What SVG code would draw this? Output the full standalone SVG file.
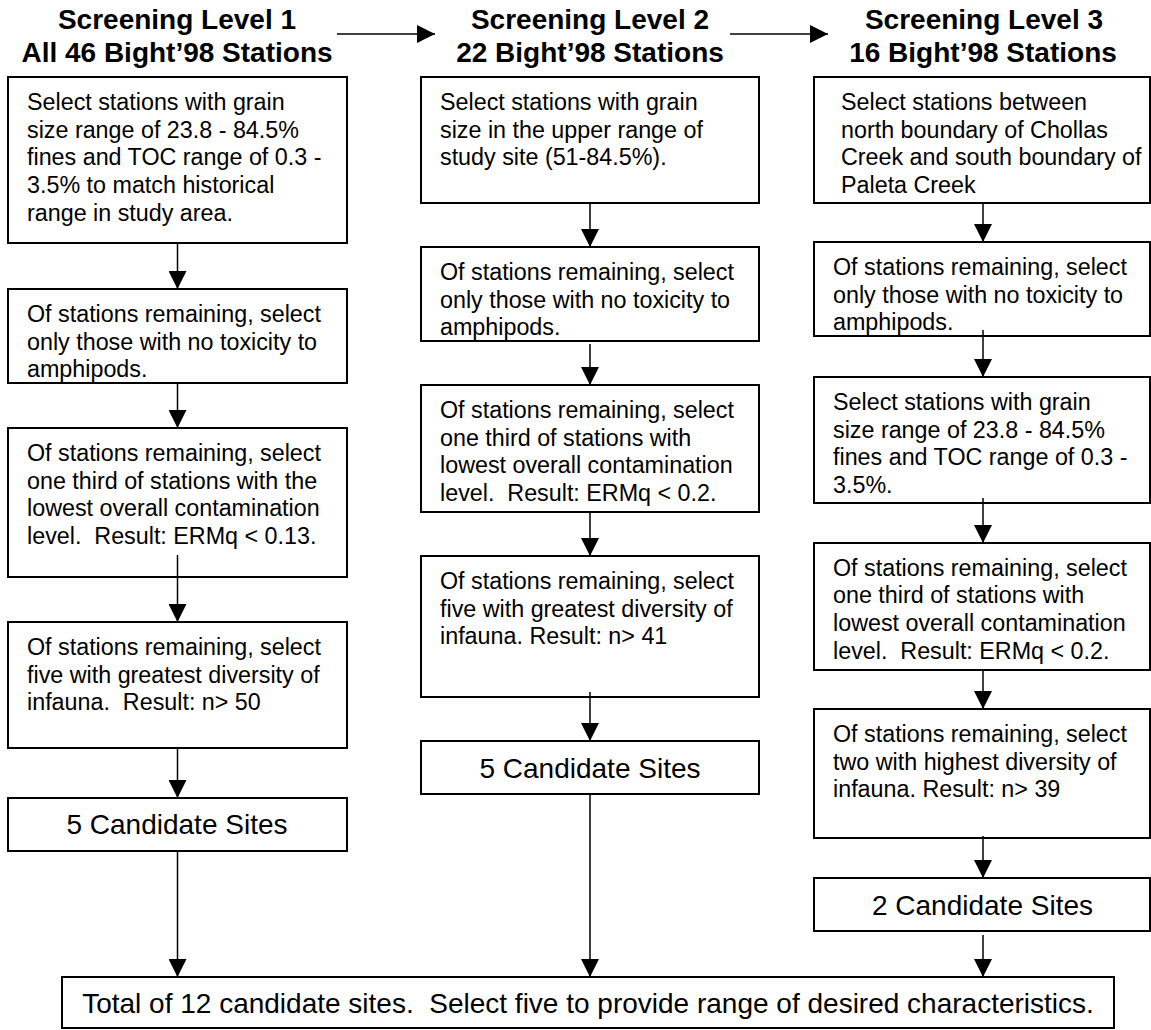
<svg xmlns="http://www.w3.org/2000/svg" width="1151" height="1030" viewBox="0 0 1151 1030">
<style>
  .box { fill: #fff; stroke: #000; stroke-width: 2; }
  .t { font-family: "Liberation Sans", Arial, sans-serif; font-size: 23.3px; fill: #000; white-space: pre; }
  .big { font-family: "Liberation Sans", Arial, sans-serif; font-size: 28px; fill: #000; white-space: pre; text-anchor: middle; }
  .hd { font-family: "Liberation Sans", Arial, sans-serif; font-size: 28px; font-weight: bold; fill: #000; text-anchor: middle; }
  .c { stroke: #000; stroke-width: 1.5; fill: none; marker-end: url(#ah); }
</style>
<defs>
  <marker id="ah" markerUnits="userSpaceOnUse" markerWidth="18" markerHeight="18" refX="18" refY="9" orient="auto">
    <path d="M0,0 L18,9 L0,18 Z" fill="#000"/>
  </marker>
</defs>
<rect width="1151" height="1030" fill="#fff"/>

<g id="headers">
  <text class="hd" x="177" y="29">Screening Level 1</text>
  <text class="hd" x="177" y="62">All 46 Bight’98 Stations</text>
  <text class="hd" x="590" y="29">Screening Level 2</text>
  <text class="hd" x="590" y="62">22 Bight’98 Stations</text>
  <text class="hd" x="984" y="29">Screening Level 3</text>
  <text class="hd" x="983" y="62">16 Bight’98 Stations</text>
</g>

<!-- Column 1 -->
<g id="c1a">
  <rect class="box" x="8" y="77" width="339" height="166"/>
  <text class="t"><tspan x="27" y="110">Select stations with grain</tspan><tspan x="27" y="137.7">size range of 23.8 - 84.5%</tspan><tspan x="27" y="165.4">fines and TOC range of 0.3 -</tspan><tspan x="27" y="193.1">3.5% to match historical</tspan><tspan x="27" y="220.8">range in study area.</tspan></text>
</g>
<g id="c1b">
  <rect class="box" x="8" y="289" width="339" height="94"/>
  <text class="t"><tspan x="27" y="322">Of stations remaining, select</tspan><tspan x="27" y="349.7">only those with no toxicity to</tspan><tspan x="27" y="377.4">amphipods.</tspan></text>
</g>
<g id="c1c">
  <rect class="box" x="8" y="428" width="339" height="149"/>
  <text class="t"><tspan x="27" y="461">Of stations remaining, select</tspan><tspan x="27" y="488.7">one third of stations with the</tspan><tspan x="27" y="516.4">lowest overall contamination</tspan><tspan x="27" y="544.1">level.  Result: ERMq &lt; 0.13.</tspan></text>
</g>
<g id="c1d">
  <rect class="box" x="8" y="622" width="339" height="126"/>
  <text class="t"><tspan x="27" y="655">Of stations remaining, select</tspan><tspan x="27" y="682.7">five with greatest diversity of</tspan><tspan x="27" y="710.4">infauna.  Result: n&gt; 50</tspan></text>
</g>
<g id="c1e">
  <rect class="box" x="8" y="798" width="339" height="53"/>
  <text class="big" x="177" y="834">5 Candidate Sites</text>
</g>

<!-- Column 2 -->
<g id="c2a">
  <rect class="box" x="421" y="77" width="338" height="126"/>
  <text class="t"><tspan x="440" y="110">Select stations with grain</tspan><tspan x="440" y="137.7">size in the upper range of</tspan><tspan x="440" y="165.4">study site (51-84.5%).</tspan></text>
</g>
<g id="c2b">
  <rect class="box" x="421" y="247" width="338" height="94"/>
  <text class="t"><tspan x="440" y="280">Of stations remaining, select</tspan><tspan x="440" y="307.7">only those with no toxicity to</tspan><tspan x="440" y="335.4">amphipods.</tspan></text>
</g>
<g id="c2c">
  <rect class="box" x="421" y="385" width="338" height="127"/>
  <text class="t"><tspan x="440" y="418">Of stations remaining, select</tspan><tspan x="440" y="445.7">one third of stations with</tspan><tspan x="440" y="473.4">lowest overall contamination</tspan><tspan x="440" y="501.1">level.  Result: ERMq &lt; 0.2.</tspan></text>
</g>
<g id="c2d">
  <rect class="box" x="421" y="556" width="338" height="141"/>
  <text class="t"><tspan x="440" y="589">Of stations remaining, select</tspan><tspan x="440" y="616.7">five with greatest diversity of</tspan><tspan x="440" y="644.4">infauna. Result: n&gt; 41</tspan></text>
</g>
<g id="c2e">
  <rect class="box" x="421" y="741" width="338" height="53"/>
  <text class="big" x="590" y="777.5">5 Candidate Sites</text>
</g>

<!-- Column 3 -->
<g id="c3a">
  <rect class="box" x="814" y="77" width="336" height="126"/>
  <text class="t"><tspan x="841" y="110">Select stations between</tspan><tspan x="841" y="137.7">north boundary of Chollas</tspan><tspan x="841" y="165.4">Creek and south boundary of</tspan><tspan x="841" y="193.1">Paleta Creek</tspan></text>
</g>
<g id="c3b">
  <rect class="box" x="814" y="242" width="336" height="94"/>
  <text class="t"><tspan x="833" y="275">Of stations remaining, select</tspan><tspan x="833" y="302.7">only those with no toxicity to</tspan><tspan x="833" y="330.4">amphipods.</tspan></text>
</g>
<g id="c3c">
  <rect class="box" x="814" y="377" width="336" height="126"/>
  <text class="t"><tspan x="833" y="410">Select stations with grain</tspan><tspan x="833" y="437.7">size range of 23.8 - 84.5%</tspan><tspan x="833" y="465.4">fines and TOC range of 0.3 -</tspan><tspan x="833" y="493.1">3.5%.</tspan></text>
</g>
<g id="c3d">
  <rect class="box" x="814" y="543" width="336" height="127"/>
  <text class="t"><tspan x="833" y="575.7">Of stations remaining, select</tspan><tspan x="833" y="603.4">one third of stations with</tspan><tspan x="833" y="631.1">lowest overall contamination</tspan><tspan x="833" y="658.8">level.  Result: ERMq &lt; 0.2.</tspan></text>
</g>
<g id="c3e">
  <rect class="box" x="814" y="709" width="336" height="129"/>
  <text class="t"><tspan x="833" y="742">Of stations remaining, select</tspan><tspan x="833" y="769.7">two with highest diversity of</tspan><tspan x="833" y="797.4">infauna. Result: n&gt; 39</tspan></text>
</g>
<g id="c3f">
  <rect class="box" x="814" y="878" width="336" height="53"/>
  <text class="big" x="982.5" y="915">2 Candidate Sites</text>
</g>

<!-- Final -->
<g id="final">
  <rect class="box" x="62" y="977" width="1052" height="51"/>
  <text class="big" x="588" y="1012.5">Total of 12 candidate sites.  Select five to provide range of desired characteristics.</text>
</g>

<g id="connectors">
  <line class="c" x1="337" y1="34" x2="435" y2="34"/>
  <line class="c" x1="730" y1="34" x2="828" y2="34"/>

  <line class="c" x1="177.5" y1="243" x2="177.5" y2="289"/>
  <line class="c" x1="177.5" y1="383" x2="177.5" y2="428"/>
  <line class="c" x1="177.5" y1="555" x2="177.5" y2="622"/>
  <line class="c" x1="177.5" y1="748" x2="177.5" y2="798"/>
  <line class="c" x1="177.5" y1="851" x2="177.5" y2="977"/>

  <line class="c" x1="590" y1="203" x2="590" y2="247"/>
  <line class="c" x1="590" y1="344" x2="590" y2="385"/>
  <line class="c" x1="590" y1="512" x2="590" y2="556"/>
  <line class="c" x1="590" y1="692" x2="590" y2="741"/>
  <line class="c" x1="590" y1="794" x2="590" y2="977"/>

  <line class="c" x1="983" y1="203" x2="983" y2="242"/>
  <line class="c" x1="983" y1="330" x2="983" y2="377"/>
  <line class="c" x1="983" y1="498" x2="983" y2="543"/>
  <line class="c" x1="983" y1="670" x2="983" y2="709"/>
  <line class="c" x1="983" y1="836" x2="983" y2="878"/>
  <line class="c" x1="983" y1="935" x2="983" y2="977"/>
</g>
</svg>
